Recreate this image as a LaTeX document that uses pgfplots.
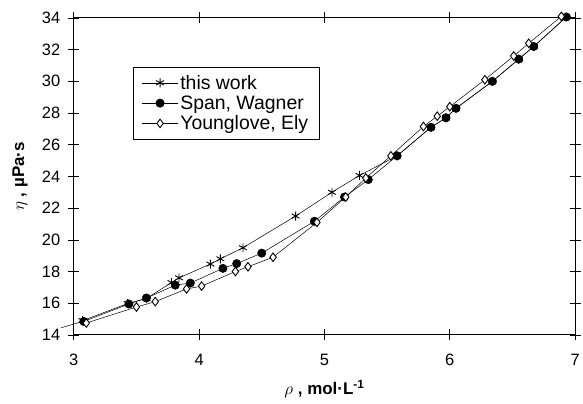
\documentclass[border=0pt]{standalone}
\usepackage{fontspec}
\setmainfont{Liberation Sans}
\usepackage{pgfplots}
\pgfplotsset{compat=1.18}
\begin{document}
\begin{tikzpicture}
\begin{axis}[
    scale only axis,
    width=503pt, height=318pt,
    xmin=3, xmax=7, ymin=14, ymax=34,
    xtick={3,4,5,6,7},
    ytick={14,16,...,34},
    tick align=center,
    major tick length=11pt,
    tick style={black, line width=0.6pt},
    axis line style={line width=1pt},
    /pgf/number format/assume math mode=true,
    ticklabel style={font=\fontsize{16.5}{18}\selectfont},
    xticklabel style={yshift=-10pt},
    yticklabel style={xshift=-4.5pt},
    xlabel={\textbf{$\rho$ , mol·L\textsuperscript{-1}}},
    ylabel={\textbf{$\eta$ , µPa·s}},
    label style={font=\fontsize{17}{19}\selectfont},
    xlabel style={at={(axis description cs:0.5,-0.17)}, anchor=center},
    ylabel style={at={(axis description cs:-0.107,0.5)}, anchor=center},
    clip=false,
    legend style={at={(0.1173,0.846)}, anchor=north west, draw=black, line width=0.6pt,
        font=\fontsize{19.5}{21}\selectfont, inner xsep=9pt, inner ysep=6pt, row sep=1pt,
        legend cell align=left},
    legend image code/.code={\draw[mark repeat=2, mark phase=2, line width=0.6pt]
        plot coordinates {(0pt,0pt) (18pt,0pt) (36pt,0pt)};},
]
\addplot[black, line width=0.5pt, mark=asterisk, mark size=4.5pt, mark options={line width=0.9pt}]
coordinates {(3.07,14.9) (3.43,15.98) (3.58,16.3) (3.78,17.3) (3.84,17.6) (4.09,18.47) (4.17,18.8) (4.35,19.5) (4.77,21.5) (5.06,23.0) (5.28,24.06) (5.58,25.3) (5.85,27.1) (5.97,27.7) (6.05,28.3) (6.34,30.0) (6.55,31.4) (6.67,32.2) (6.93,34.06)};
\addlegendentry{this work}
\addplot[black, line width=0.5pt, mark=*, mark size=4.2pt]
coordinates {(3.08,14.85) (3.44,15.95) (3.58,16.33) (3.81,17.14) (3.93,17.27) (4.19,18.2) (4.30,18.5) (4.50,19.16) (4.92,21.17) (5.16,22.7) (5.35,23.8) (5.58,25.3) (5.85,27.1) (5.97,27.7) (6.05,28.3) (6.34,30.0) (6.55,31.4) (6.67,32.2) (6.93,34.06)};
\addlegendentry{Span, Wagner}
\addplot[black, line width=0.5pt, mark=diamond*, mark size=4.3pt, mark options={fill=white, line width=0.9pt}]
coordinates {(3.10,14.75) (3.50,15.76) (3.65,16.1) (3.90,16.9) (4.02,17.08) (4.29,18.0) (4.39,18.3) (4.59,18.9) (4.94,21.1) (5.17,22.7) (5.33,23.9) (5.53,25.3) (5.79,27.15) (5.90,27.8) (6.00,28.4) (6.28,30.1) (6.51,31.6) (6.63,32.4) (6.89,34.1)};
\addlegendentry{Younglove, Ely}
\addplot[black, line width=0.5pt, forget plot] coordinates {(2.9,14.45) (3.07,14.85)};
\path (rel axis cs:0,0) ++(-74pt,-69pt);
\path (rel axis cs:1,1) ++(6pt,18pt);
\end{axis}
\end{tikzpicture}
\end{document}
